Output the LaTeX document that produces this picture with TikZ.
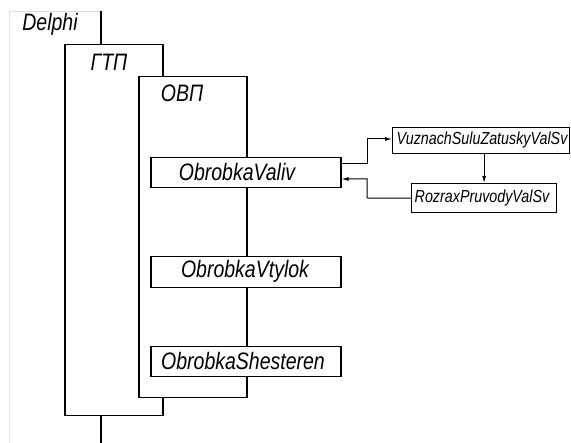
\documentclass[tikz,border=0pt]{standalone}
\usepackage{graphicx}
\usepackage{fontspec}
\setmainfont{Liberation Sans}
\usetikzlibrary{arrows.meta}

\newcommand{\tallword}[1]{\scalebox{1}[1.22]{#1}}

\begin{document}
\begin{tikzpicture}[x=1pt, y=-1pt, line width=1.5pt,
	every node/.style={font=\fontsize{19.5}{20}\selectfont\itshape, inner sep=0pt},
	frame/.style={draw, fill=white, anchor=north west},
	unitbox/.style={draw, fill=white, anchor=north west},
	subbox/.style={draw, fill=white, anchor=north west, line width=1.3pt},
	small/.style={font=\fontsize{14.3}{15}\selectfont\itshape},
	>={Latex[length=7pt,width=4pt]}]
	\useasboundingbox (0,0) rectangle (571,443);
	% Delphi
	\draw[gray!25, line width=0.8pt] (101,11) -- (9,11) -- (9,443);
	\node (delphi) at (50,24) {\tallword{Delphi}};
	\coordinate (dtop) at (101,11);
	\coordinate (dbot) at (101,443);
	% nested levels
	\node[frame, minimum width=98pt, minimum height=371pt] (gtp) at (64,44) {};
	\node (gtplbl) at (109,62) {\tallword{ГТП}};
	\node[frame, minimum width=108pt, minimum height=321pt] (ovp) at (138,76) {};
	\node (ovplbl) at (182,93) {\tallword{ОВП}};
	\draw (dtop) -- (dtop |- gtp.north);
	\draw (dbot |- gtp.south) -- (dbot);
	% units
	\node[unitbox, minimum width=190pt, minimum height=30pt] (valiv) at (150,157) {};
	\node (valivlbl) at (237,172) {\tallword{ObrobkaValiv}};
	\node[unitbox, minimum width=190pt, minimum height=31pt] (vtylok) at (150,256) {};
	\node (vtyloklbl) at (245,271) {\tallword{ObrobkaVtylok}};
	\node[unitbox, minimum width=190pt, minimum height=30pt] (shest) at (150,346) {};
	\node (shestlbl) at (243,361) {\tallword{ObrobkaShesteren}};
	% calls
	\node[subbox, minimum width=177pt, minimum height=26pt] (vuz) at (392,127) {};
	\node[small] (vuzlbl) at (482,140) {\tallword{VuznachSuluZatuskyValSv}};
	\node[subbox, minimum width=145pt, minimum height=29pt] (rozrax) at (411,183) {};
	\node[small] (rozraxlbl) at (482,198) {\tallword{RozraxPruvodyValSv}};
	\draw[->, line width=1pt] (valiv.east |- 0,164) -- (367,164) |- (vuz.west |- 0,139);
	\draw[->, line width=1pt] (vuz.south -| rozrax.north) -- (rozrax.north);
	\draw[->, line width=1pt] (rozrax.west) -- (367,198) |- (valiv.east |- 0,179);
\end{tikzpicture}
\end{document}
